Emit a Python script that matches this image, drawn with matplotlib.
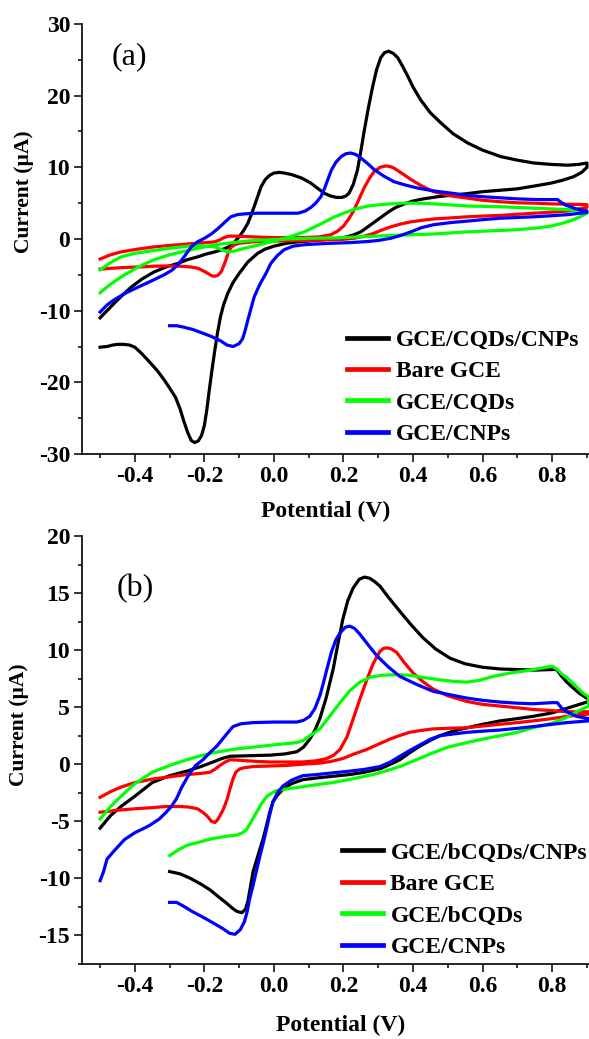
import matplotlib
matplotlib.use("Agg")
import matplotlib.pyplot as plt
from matplotlib.ticker import MultipleLocator, FormatStrFormatter

plt.rcParams["font.family"] = ["Liberation Serif", "DejaVu Serif"]
plt.rcParams["font.weight"] = "bold"
plt.rcParams["axes.unicode_minus"] = False

# ---- panel (a): CV scans, potential (V) vs current (uA) ----
# each scan: anodic sweep from the left end up to 0.9 V, then the return sweep
a_black_v = [-0.50, -0.48, -0.46, -0.435, -0.41, -0.38, -0.345, -0.31, -0.276, -0.25, -0.22, -0.195,
             -0.17, -0.15, -0.13, -0.115, -0.10, -0.087, -0.075, -0.066, -0.057, -0.047, -0.037,
             -0.025, -0.012, 0.0, 0.015, 0.03, 0.05, 0.08, 0.106, 0.125, 0.144, 0.163, 0.18, 0.195,
             0.207, 0.216, 0.228, 0.24, 0.25, 0.26, 0.272, 0.284, 0.295, 0.307, 0.318, 0.33, 0.343,
             0.356, 0.37, 0.385, 0.40, 0.422, 0.45, 0.48, 0.515, 0.557, 0.60, 0.652, 0.70, 0.748,
             0.80, 0.845, 0.875, 0.90,
             0.90, 0.885, 0.862, 0.83, 0.797, 0.75, 0.70, 0.65, 0.60, 0.55, 0.51, 0.47, 0.43, 0.40,
             0.375, 0.35, 0.33, 0.31, 0.29, 0.27, 0.25, 0.23, 0.21, 0.185, 0.164, 0.12, 0.069, 0.035,
             0.0, -0.025, -0.047, -0.075, -0.10, -0.118, -0.133, -0.145, -0.154, -0.162, -0.17,
             -0.178, -0.186, -0.193, -0.20, -0.208, -0.218, -0.228, -0.238, -0.248, -0.26, -0.27,
             -0.283, -0.30, -0.315, -0.335, -0.357, -0.38, -0.40, -0.415, -0.432, -0.45, -0.464,
             -0.48, -0.50]
a_black_i = [-11.0, -10.0, -9.0, -7.8, -6.7, -5.6, -4.6, -3.9, -3.4, -2.9, -2.5, -2.1,
             -1.8, -1.5, -1.1, -0.5, 0.3, 1.2, 2.2, 3.3, 4.5, 5.9, 7.3,
             8.3, 8.9, 9.2, 9.3, 9.2, 9.0, 8.5, 7.8, 7.1, 6.4, 6.0, 5.8, 5.8,
             6.0, 6.4, 7.6, 9.6, 12.3, 15.2, 18.4, 21.3, 23.6, 25.3, 26.0, 26.2, 25.9,
             25.3, 24.1, 22.7, 21.2, 19.4, 17.6, 16.2, 14.7, 13.4, 12.4, 11.5, 11.0, 10.6,
             10.4, 10.3, 10.4, 10.6,
             10.0, 9.3, 8.7, 8.2, 7.8, 7.4, 7.0, 6.8, 6.6, 6.3, 6.1, 5.9, 5.6, 5.3,
             4.9, 4.4, 3.8, 3.1, 2.4, 1.7, 1.0, 0.6, 0.3, 0.1, 0.0, -0.2, -0.4, -0.6,
             -1.0, -1.4, -2.0, -3.2, -4.8, -6.1, -7.6, -9.2, -10.9, -13.0, -15.5,
             -18.2, -21.1, -23.8, -26.0, -27.4, -28.2, -28.4, -28.1, -27.0, -25.3, -23.7,
             -22.1, -20.8, -19.7, -18.4, -17.2, -16.0, -15.1, -14.8, -14.7, -14.7, -14.8,
             -15.0, -15.1]

a_red_v = [-0.50, -0.47, -0.44, -0.39, -0.345, -0.30, -0.25, -0.21, -0.17, -0.155, -0.143, -0.13,
           -0.115, -0.06, -0.009, 0.04, 0.087, 0.13, 0.164, 0.183, 0.20, 0.215, 0.23, 0.245, 0.26,
           0.275, 0.288, 0.305, 0.322, 0.335, 0.345, 0.37, 0.394, 0.425, 0.46, 0.51, 0.557, 0.60,
           0.652, 0.70, 0.748, 0.80, 0.845, 0.90,
           0.90, 0.845, 0.80, 0.748, 0.70, 0.652, 0.60, 0.557, 0.51, 0.46, 0.425, 0.394, 0.365,
           0.336, 0.31, 0.288, 0.26, 0.23, 0.20, 0.164, 0.10, 0.04, -0.009, -0.06, -0.10, -0.113,
           -0.124, -0.132, -0.138, -0.145, -0.152, -0.162, -0.172, -0.18, -0.19, -0.205, -0.218,
           -0.24, -0.267, -0.30, -0.345, -0.39, -0.44, -0.50]
a_red_i = [-2.8, -2.2, -1.8, -1.4, -1.1, -0.9, -0.7, -0.55, -0.4, -0.1, 0.2, 0.4,
           0.4, 0.3, 0.2, 0.2, 0.2, 0.3, 0.6, 1.1, 1.8, 2.8, 4.0, 5.6, 7.2,
           8.5, 9.4, 10.0, 10.2, 10.1, 9.9, 9.1, 8.3, 7.4, 6.6, 6.0, 5.7, 5.4,
           5.2, 5.05, 5.0, 4.9, 4.85, 4.8,
           4.4, 3.9, 3.75, 3.6, 3.45, 3.3, 3.2, 3.1, 2.95, 2.8, 2.6, 2.4, 2.1,
           1.7, 1.25, 0.8, 0.4, 0.1, -0.05, -0.1, -0.2, -0.25, -0.3, -0.4, -0.6, -0.8,
           -1.2, -2.0, -2.9, -3.8, -4.6, -5.1, -5.2, -5.1, -4.8, -4.4, -4.1,
           -3.9, -3.8, -3.75, -3.8, -3.9, -4.0, -4.2]

a_green_v = [-0.50, -0.47, -0.44, -0.40, -0.345, -0.30, -0.247, -0.21, -0.17, -0.15, -0.133, -0.115,
             -0.10, -0.086, -0.05, -0.009, 0.04, 0.087, 0.135, 0.17, 0.20, 0.235, 0.27, 0.32, 0.365,
             0.41, 0.46, 0.51, 0.557, 0.652, 0.748, 0.845, 0.90,
             0.90, 0.88, 0.862, 0.83, 0.797, 0.75, 0.70, 0.63, 0.557, 0.46, 0.365, 0.27, 0.173,
             0.10, 0.04, -0.057, -0.10, -0.152, -0.20, -0.247, -0.30, -0.345, -0.39, -0.44, -0.47,
             -0.50]
a_green_i = [-4.3, -3.3, -2.5, -2.0, -1.6, -1.3, -1.0, -0.95, -1.1, -1.5, -1.8, -1.7,
             -1.5, -1.3, -0.9, -0.4, 0.2, 1.0, 2.1, 3.0, 3.6, 4.2, 4.6, 4.85, 5.0,
             5.0, 4.9, 4.75, 4.6, 4.5, 4.3, 4.1, 3.9,
             3.6, 3.1, 2.7, 2.2, 1.8, 1.5, 1.3, 1.15, 1.0, 0.7, 0.55, 0.35, 0.15,
             0.1, 0.0, -0.2, -0.4, -0.7, -1.1, -1.6, -2.2, -2.9, -3.9, -5.3, -6.3,
             -7.5]

a_blue_v = [-0.50, -0.48, -0.46, -0.425, -0.39, -0.35, -0.316, -0.295, -0.276, -0.257, -0.238, -0.22,
            -0.20, -0.18, -0.16, -0.14, -0.124, -0.105, -0.086, -0.05, -0.009, 0.03, 0.069, 0.09,
            0.106, 0.12, 0.135, 0.145, 0.155, 0.165, 0.178, 0.193, 0.207, 0.22, 0.235, 0.25, 0.27,
            0.288, 0.315, 0.345, 0.38, 0.414, 0.46, 0.51, 0.555, 0.60, 0.65, 0.70, 0.76, 0.816,
            0.826, 0.84, 0.87, 0.90,
            0.90, 0.845, 0.80, 0.748, 0.70, 0.652, 0.60, 0.557, 0.51, 0.46, 0.425, 0.394, 0.365,
            0.336, 0.30, 0.27, 0.22, 0.164, 0.12, 0.087, 0.055, 0.029, 0.01, -0.009, -0.024, -0.037,
            -0.047, -0.057, -0.066, -0.075, -0.083, -0.09, -0.10, -0.117, -0.135, -0.154, -0.18,
            -0.207, -0.235, -0.26, -0.28, -0.30]
a_blue_i = [-10.2, -9.2, -8.5, -7.5, -6.7, -5.8, -5.0, -4.4, -3.6, -2.4, -1.1, -0.4,
            0.1, 0.7, 1.5, 2.4, 3.1, 3.4, 3.5, 3.6, 3.6, 3.6, 3.6, 3.9,
            4.4, 5.0, 5.9, 7.0, 8.3, 9.6, 10.7, 11.5, 11.9, 12.0, 11.8, 11.3, 10.5,
            9.7, 8.8, 8.0, 7.5, 7.1, 6.7, 6.4, 6.1, 5.9, 5.75, 5.6, 5.5, 5.5,
            5.1, 4.7, 4.2, 3.9,
            3.7, 3.4, 3.25, 3.1, 3.0, 2.9, 2.7, 2.5, 2.3, 2.0, 1.6, 1.0, 0.5,
            0.1, -0.2, -0.35, -0.5, -0.6, -0.7, -0.8, -1.0, -1.5, -2.3, -3.4, -4.9, -6.0,
            -7.0, -8.1, -9.7, -11.3, -12.8, -13.9, -14.6, -15.0, -14.8, -14.2, -13.6,
            -13.1, -12.6, -12.3, -12.1, -12.1]

# ---- panel (b) ----
b_black_v = [-0.50, -0.47, -0.44, -0.40, -0.35, -0.30, -0.25, -0.21, -0.175, -0.15, -0.126, -0.07,
             -0.011, 0.03, 0.066, 0.085, 0.103, 0.118, 0.132, 0.15, 0.17, 0.185, 0.198, 0.212, 0.227,
             0.245, 0.26, 0.275, 0.29, 0.305, 0.33, 0.362, 0.395, 0.428, 0.465, 0.506, 0.55, 0.60,
             0.65, 0.698, 0.75, 0.80, 0.813, 0.825, 0.842, 0.86, 0.879, 0.905,
             0.905, 0.842, 0.80, 0.745, 0.70, 0.65, 0.60, 0.555, 0.515, 0.477, 0.45, 0.42, 0.39,
             0.362, 0.335, 0.305, 0.26, 0.218, 0.17, 0.123, 0.083, 0.05, 0.026, 0.01, -0.003, -0.012,
             -0.02, -0.03, -0.04, -0.05, -0.06, -0.068, -0.075, -0.082, -0.092, -0.106, -0.12,
             -0.135, -0.16, -0.184, -0.21, -0.24, -0.27, -0.30]
b_black_i = [-5.6, -4.5, -3.7, -2.8, -1.6, -1.0, -0.6, -0.2, 0.2, 0.5, 0.7, 0.75,
             0.8, 0.9, 1.1, 1.5, 2.2, 3.0, 4.0, 5.8, 8.3, 10.7, 12.7, 14.3, 15.4,
             16.2, 16.4, 16.3, 16.0, 15.6, 14.6, 13.4, 12.2, 11.1, 10.1, 9.3, 8.8, 8.5,
             8.35, 8.3, 8.25, 8.3, 8.3, 7.8, 7.2, 6.7, 6.2, 5.7,
             5.5, 4.9, 4.5, 4.2, 4.0, 3.8, 3.5, 3.2, 2.9, 2.5, 2.1, 1.6, 1.0,
             0.4, 0.0, -0.4, -0.7, -0.9, -1.05, -1.2, -1.35, -1.7, -2.2, -2.7, -3.3, -4.2,
             -5.2, -6.4, -7.4, -8.4, -9.4, -10.8, -12.0, -12.7, -13.0, -12.9, -12.6,
             -12.2, -11.6, -11.0, -10.5, -10.0, -9.6, -9.4]

b_red_v = [-0.50, -0.47, -0.44, -0.40, -0.35, -0.30, -0.25, -0.21, -0.184, -0.168, -0.155, -0.14,
           -0.126, -0.10, -0.05, -0.011, 0.04, 0.083, 0.12, 0.152, 0.172, 0.19, 0.21, 0.227, 0.247,
           0.267, 0.285, 0.305, 0.315, 0.325, 0.338, 0.353, 0.375, 0.40, 0.43, 0.457, 0.50, 0.555,
           0.60, 0.65, 0.70, 0.745, 0.80, 0.842, 0.905,
           0.905, 0.842, 0.80, 0.745, 0.70, 0.65, 0.60, 0.555, 0.50, 0.457, 0.42, 0.39, 0.36,
           0.333, 0.30, 0.267, 0.23, 0.198, 0.165, 0.132, 0.08, 0.037, -0.01, -0.06, -0.085, -0.098,
           -0.11, -0.118, -0.127, -0.135, -0.145, -0.155, -0.163, -0.17, -0.18, -0.19, -0.205,
           -0.22, -0.245, -0.27, -0.31, -0.35, -0.40, -0.44, -0.50]
b_red_i = [-2.9, -2.4, -2.0, -1.6, -1.3, -1.1, -0.9, -0.8, -0.7, -0.4, -0.1, 0.2,
           0.4, 0.35, 0.25, 0.2, 0.2, 0.2, 0.3, 0.5, 0.8, 1.3, 2.4, 3.9, 5.7,
           7.4, 8.8, 9.9, 10.15, 10.2, 10.1, 9.8, 8.9, 8.0, 7.2, 6.6, 6.0, 5.5,
           5.25, 5.1, 4.95, 4.8, 4.7, 4.6, 4.6,
           4.4, 4.2, 4.0, 3.8, 3.65, 3.5, 3.35, 3.2, 3.15, 3.1, 2.95, 2.8, 2.5,
           2.2, 1.75, 1.3, 0.9, 0.5, 0.25, 0.1, 0.0, -0.1, -0.15, -0.2, -0.3, -0.4,
           -0.7, -1.3, -2.2, -3.1, -3.9, -4.5, -4.9, -5.1, -5.0, -4.6, -4.2,
           -3.9, -3.75, -3.7, -3.7, -3.8, -3.9, -4.0, -4.2]

b_green_v = [-0.50, -0.47, -0.44, -0.40, -0.35, -0.30, -0.25, -0.21, -0.175, -0.12, -0.06, 0.0,
             0.066, 0.085, 0.103, 0.118, 0.132, 0.16, 0.19, 0.22, 0.247, 0.28, 0.313, 0.35, 0.39,
             0.43, 0.477, 0.52, 0.555, 0.59, 0.63, 0.68, 0.727, 0.775, 0.80, 0.815, 0.828, 0.842,
             0.87, 0.89, 0.905,
             0.905, 0.87, 0.842, 0.80, 0.745, 0.70, 0.65, 0.60, 0.555, 0.50, 0.457, 0.41, 0.362,
             0.32, 0.285, 0.23, 0.17, 0.12, 0.075, 0.04, 0.008, -0.005, -0.02, -0.035, -0.05,
             -0.065, -0.078, -0.09, -0.107, -0.135, -0.175, -0.213, -0.25, -0.275, -0.30]
b_green_i = [-4.8, -3.7, -2.8, -1.7, -0.7, -0.1, 0.4, 0.75, 1.0, 1.3, 1.5, 1.7,
             1.9, 2.1, 2.5, 2.8, 3.1, 4.2, 5.4, 6.5, 7.2, 7.65, 7.8, 7.85, 7.8,
             7.6, 7.4, 7.25, 7.2, 7.35, 7.7, 8.0, 8.2, 8.45, 8.6, 8.3, 7.9, 7.6,
             6.8, 6.2, 5.9,
             5.1, 4.6, 4.1, 3.6, 3.2, 2.8, 2.5, 2.2, 1.9, 1.5, 1.0, 0.4, -0.2,
             -0.6, -0.9, -1.25, -1.6, -1.8, -2.0, -2.15, -2.3, -2.5, -2.8, -3.4, -4.2,
             -5.0, -5.7, -6.0, -6.2, -6.3, -6.5, -6.8, -7.1, -7.5, -8.0]

b_blue_v = [-0.50, -0.49, -0.48, -0.46, -0.43, -0.40, -0.36, -0.33, -0.31, -0.295, -0.28, -0.265,
            -0.25, -0.24, -0.225, -0.204, -0.185, -0.164, -0.14, -0.118, -0.095, -0.06, 0.0, 0.066,
            0.085, 0.103, 0.118, 0.132, 0.142, 0.152, 0.165, 0.178, 0.19, 0.205, 0.218, 0.232,
            0.247, 0.27, 0.296, 0.33, 0.362, 0.41, 0.457, 0.505, 0.555, 0.60, 0.65, 0.70, 0.745,
            0.80, 0.815, 0.828, 0.842, 0.87, 0.905,
            0.905, 0.842, 0.80, 0.745, 0.70, 0.65, 0.60, 0.555, 0.515, 0.477, 0.45, 0.42, 0.39,
            0.362, 0.335, 0.305, 0.26, 0.218, 0.17, 0.123, 0.083, 0.05, 0.026, 0.01, -0.003,
            -0.012, -0.02, -0.03, -0.04, -0.05, -0.06, -0.07, -0.077, -0.085, -0.097, -0.112,
            -0.128, -0.147, -0.175, -0.204, -0.235, -0.262, -0.28, -0.30]
b_blue_i = [-10.2, -9.4, -8.3, -7.6, -6.6, -6.0, -5.4, -4.8, -4.2, -3.7, -3.0, -2.0,
            -1.2, -0.7, -0.1, 0.4, 1.0, 1.6, 2.5, 3.3, 3.55, 3.65, 3.7, 3.7,
            3.85, 4.2, 4.9, 6.0, 7.1, 8.3, 9.8, 10.9, 11.5, 12.0, 12.1, 11.9,
            11.4, 10.5, 9.5, 8.5, 7.7, 7.0, 6.4, 6.1, 5.8, 5.6, 5.45, 5.35, 5.3,
            5.4, 5.4, 4.9, 4.6, 4.2, 4.0,
            3.8, 3.65, 3.5, 3.3, 3.15, 3.0, 2.9, 2.8, 2.65, 2.5, 2.2, 1.7, 1.2,
            0.7, 0.2, -0.2, -0.45, -0.6, -0.75, -0.9, -1.0, -1.4, -1.9, -2.5, -3.3,
            -4.4, -5.5, -6.8, -8.0, -9.3, -10.6, -11.8, -12.9, -13.8, -14.5, -14.9,
            -14.8, -14.4, -13.9, -13.4, -12.9, -12.4, -12.1, -12.1]

labels_a = ["GCE/CQDs/CNPs", "Bare GCE", "GCE/CQDs", "GCE/CNPs"]
labels_b = ["GCE/bCQDs/CNPs", "Bare GCE", "GCE/bCQDs", "GCE/CNPs"]
colors = ["#000000", "#ff0000", "#00ff00", "#0000ff"]

curves_a = [(a_black_v, a_black_i), (a_red_v, a_red_i), (a_green_v, a_green_i), (a_blue_v, a_blue_i)]
curves_b = [(b_black_v, b_black_i), (b_red_v, b_red_i), (b_green_v, b_green_i), (b_blue_v, b_blue_i)]

W, H = 589, 1039
fig = plt.figure(figsize=(W / 100, H / 100), dpi=100)


def panel(rect, curves, labels, ylim, ymaj, ymin, tag, tag_xy, leg_xy, xlab_xy, ylab_xy):
    ax = fig.add_axes(rect)
    for (v, i), c, lab in zip(curves, colors, labels):
        ax.plot(v, i, color=c, lw=2.3, label=lab, solid_joinstyle="round")
    ax.set_xlim(-0.552, 0.906)
    ax.set_ylim(*ylim)
    ax.spines["top"].set_visible(False)
    ax.spines["right"].set_visible(False)
    for s in ("left", "bottom"):
        ax.spines[s].set_linewidth(1.2)
    ax.xaxis.set_major_locator(MultipleLocator(0.2))
    ax.xaxis.set_minor_locator(MultipleLocator(0.1))
    ax.xaxis.set_major_formatter(FormatStrFormatter("%.1f"))
    ax.yaxis.set_major_locator(MultipleLocator(ymaj))
    ax.yaxis.set_minor_locator(MultipleLocator(ymin))
    ax.yaxis.set_major_formatter(FormatStrFormatter("%d"))
    ax.tick_params(which="major", direction="out", length=5.5, width=1.1, labelsize=17, pad=3)
    ax.tick_params(which="minor", direction="out", length=3, width=1.1)
    ax.set_xlabel("Potential (V)", fontsize=17, fontweight="bold")
    ax.set_ylabel("Current (\u00b5A)", fontsize=15.5, fontweight="bold")
    ax.xaxis.set_label_coords(*xlab_xy)
    ax.yaxis.set_label_coords(*ylab_xy)
    ax.text(tag_xy[0], tag_xy[1], tag, transform=ax.transAxes, fontsize=23,
            fontweight="normal", ha="left", va="center")
    leg = ax.legend(loc="upper left", bbox_to_anchor=leg_xy, frameon=False, fontsize=17,
                    handlelength=1.75, handletextpad=0.3, labelspacing=0.42,
                    borderpad=0, borderaxespad=0)
    for h in leg.get_lines():
        h.set_linewidth(3.4)
    return ax


panel([82 / W, (H - 454) / H, (W - 82) / W, 430 / H], curves_a, labels_a,
      (-30, 30), 10, 5, "(a)", (0.058, 0.923), (0.523, 0.29), (0.48, -0.11), (-0.095, 0.61))
panel([82 / W, (H - 964) / H, (W - 82) / W, 428 / H], curves_b, labels_b,
      (-17.5, 20), 5, 2.5, "(b)", (0.068, 0.878), (0.513, 0.285), (0.51, -0.12), (-0.105, 0.56))

fig.savefig("out.png", dpi=100)
